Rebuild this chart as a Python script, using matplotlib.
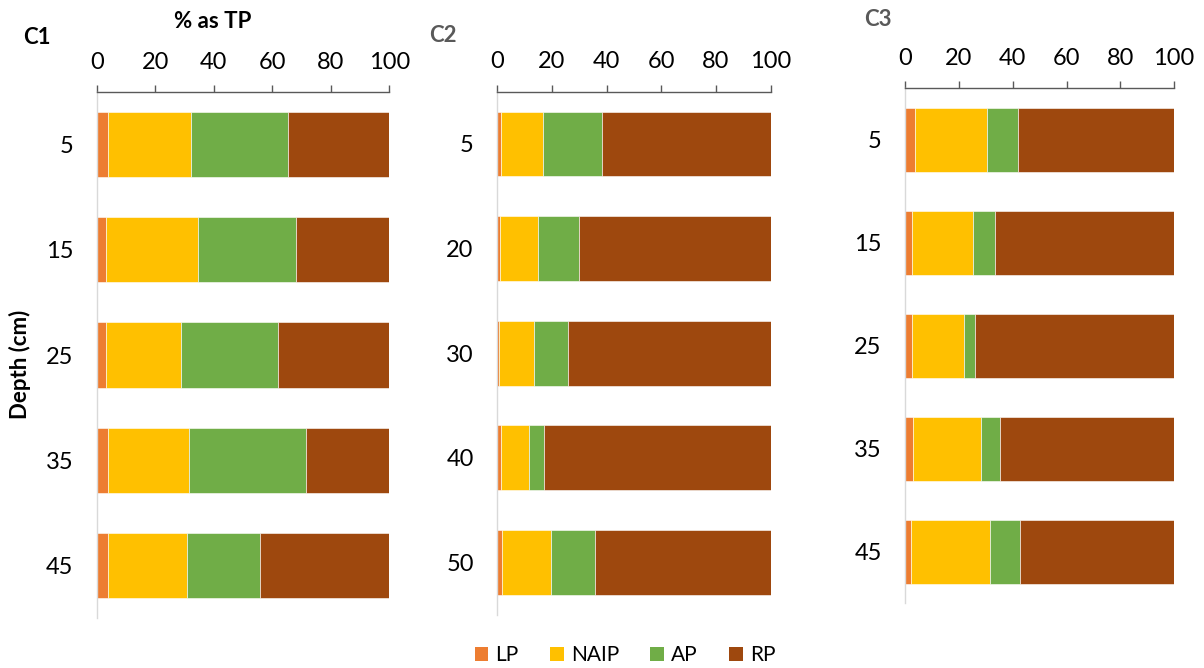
import matplotlib
matplotlib.use("Agg")
import matplotlib.pyplot as plt
from matplotlib.patches import Patch

# 인 형태별 비율 (% as TP), 코어별 깊이 프로파일
plt.rcParams['font.family'] = ['Lato', 'DejaVu Sans']

fractions = ['LP', 'NAIP', 'AP', 'RP']
colors = ['#ED7D31', '#FFC000', '#70AD47', '#9E480E']

c1_depth = ['5', '15', '25', '35', '45']
c1_lp = [3.8, 3.3, 3.1, 4.0, 3.9]
c1_naip = [28.5, 31.4, 25.7, 27.5, 27.0]
c1_ap = [33.1, 33.3, 33.0, 40.1, 24.9]
c1_rp = [34.6, 32.0, 38.2, 28.4, 44.2]

c2_depth = ['5', '20', '30', '40', '50']
c2_lp = [1.5, 1.0, 0.5, 1.3, 1.7]
c2_naip = [15.1, 13.8, 12.9, 10.3, 17.9]
c2_ap = [21.7, 15.1, 12.5, 5.5, 16.0]
c2_rp = [61.7, 70.1, 74.1, 82.9, 64.4]

c3_depth = ['5', '15', '25', '35', '45']
c3_lp = [3.5, 2.5, 2.4, 2.7, 2.0]
c3_naip = [26.8, 22.7, 19.3, 25.5, 29.4]
c3_ap = [11.6, 8.2, 4.2, 7.2, 11.4]
c3_rp = [58.1, 66.6, 74.1, 64.6, 57.2]

W, H = 1204, 668
fig = plt.figure(figsize=(W / 100, H / 100), dpi=100)


def px_axes(x0, x1, y0, y1):
    # 픽셀 좌표(위쪽 원점)로 축 위치 지정
    return fig.add_axes([x0 / W, 1 - y1 / H, (x1 - x0) / W, (y1 - y0) / H])


def draw_core(ax, depth, series):
    left = [0.0] * len(depth)
    for vals, col in zip(series, colors):
        ax.barh(range(len(depth)), vals, left=left, height=0.62,
                color=col, edgecolor='white', linewidth=0.4)
        left = [a + b for a, b in zip(left, vals)]
    ax.set_xlim(0, 100)
    ax.set_ylim(len(depth) - 0.5, -0.5)
    ax.set_xticks([0, 20, 40, 60, 80, 100])
    ax.set_yticks(range(len(depth)))
    ax.set_yticklabels(depth)
    ax.xaxis.tick_top()
    ax.tick_params(axis='x', direction='out', length=5, width=1,
                   color='#595959', labelsize=17, pad=9)
    ax.tick_params(axis='y', length=0, labelsize=17, pad=17)
    for s in ['right', 'bottom']:
        ax.spines[s].set_visible(False)
    ax.spines['top'].set_color('#595959')
    ax.spines['top'].set_linewidth(1)
    ax.spines['left'].set_color('#d9d9d9')
    ax.spines['left'].set_linewidth(1)


ax1 = px_axes(96.7, 389.3, 92, 618)
draw_core(ax1, c1_depth, [c1_lp, c1_naip, c1_ap, c1_rp])
ax2 = px_axes(497.3, 770.7, 91.7, 614.7)
draw_core(ax2, c2_depth, [c2_lp, c2_naip, c2_ap, c2_rp])
ax3 = px_axes(905.3, 1174, 88.3, 603.3)
draw_core(ax3, c3_depth, [c3_lp, c3_naip, c3_ap, c3_rp])

# 패널 제목 및 축 제목
fig.text(37 / W, 1 - 38 / H, 'C1', fontsize=16, fontweight='bold',
         ha='center', va='center', color='black')
fig.text(443 / W, 1 - 36 / H, 'C2', fontsize=16, fontweight='bold',
         ha='center', va='center', color='#595959')
fig.text(878 / W, 1 - 19 / H, 'C3', fontsize=16, fontweight='bold',
         ha='center', va='center', color='#595959')
fig.text(213 / W, 1 - 21 / H, '% as TP', fontsize=16, fontweight='bold',
         ha='center', va='center')
fig.text(20 / W, 1 - 364 / H, 'Depth (cm)', fontsize=16, fontweight='bold',
         ha='center', va='center', rotation=90)

handles = [Patch(facecolor=c, edgecolor='none', label=l)
           for c, l in zip(colors, fractions)]
fig.legend(handles=handles, loc='center', bbox_to_anchor=(625 / W, 1 - 655 / H),
           ncol=4, frameon=False, fontsize=15, handlelength=0.65,
           handleheight=0.65, handletextpad=0.35, columnspacing=1.5)

fig.savefig('out.png', dpi=100)
